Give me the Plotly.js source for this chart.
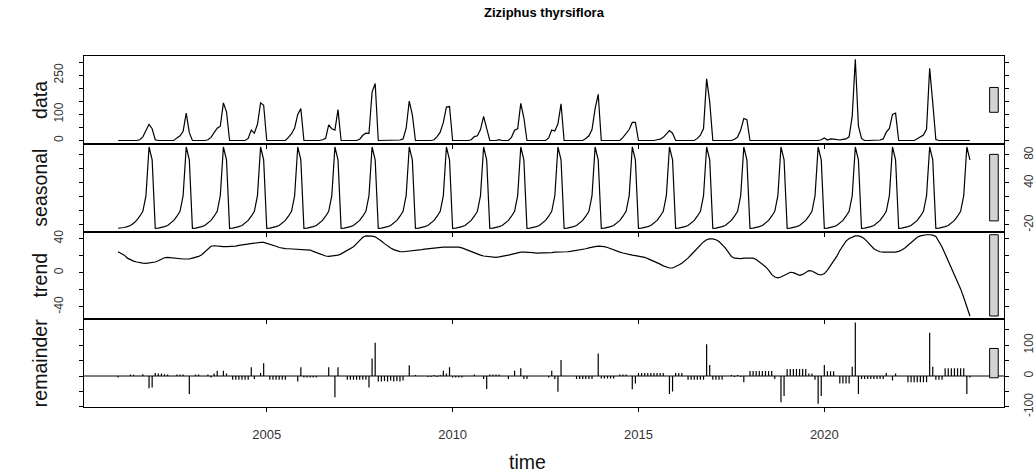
<!DOCTYPE html>
<html><head><meta charset="utf-8">
<script src="https://cdn.plot.ly/plotly-3.0.1.min.js"></script>
<style>html,body{margin:0;padding:0;background:#fff}</style>
</head><body><div id="chart" style="width:1036px;height:475px"></div>
<script>
const chartTitle = 'Ziziphus thyrsiflora';
const panelLabels = ['data', 'seasonal', 'trend', 'remainder'];
const startYear = 2001;
const xTickVals = [2005, 2010, 2015, 2020];

// one row per year, Jan..Dec
const dataValues = [
  [0,0,0,0,0,0,0,3,14,38,62,45],
  [3,0,0,0,0,0,0,10,18,35,105,30],
  [0,0,0,0,0,3,12,30,47,55,144,110],
  [0,0,0,0,0,0,8,40,28,62,144,135],
  [0,0,0,0,0,0,0,12,26,48,100,122],
  [0,0,0,0,0,0,3,8,60,45,40,118],
  [0,0,0,0,0,0,5,20,28,27,185,218],
  [0,0,0,0,0,0,0,2,6,47,151,98],
  [0,0,0,0,0,0,3,15,32,69,128,130],
  [0,0,0,0,0,0,3,15,18,42,92,50],
  [0,0,0,3,0,0,0,12,39,45,142,87],
  [0,0,0,0,0,0,0,10,40,36,64,140],
  [0,0,0,0,0,0,0,8,18,42,122,177],
  [0,0,0,0,0,0,0,12,25,42,69,69],
  [0,0,0,0,0,0,3,5,12,26,38,28],
  [0,0,0,0,0,0,0,8,20,46,236,148],
  [0,0,0,0,0,0,0,5,13,40,84,80],
  [0,0,0,0,0,0,0,0,0,0,0,0],
  [0,0,0,0,0,0,0,0,0,0,0,3],
  [10,2,6,5,3,2,4,6,14,93,311,56],
  [8,0,0,0,0,0,2,6,32,46,100,105],
  [0,0,0,0,0,0,7,14,21,44,276,145],
  [4,0,0,0,0,0,0,0,0,0,0,0]
];

const seasonalValues = [
  [-24.7,-24.4,-23.6,-22.3,-20.8,-17.5,-13.5,-7.5,-0.5,22,91.4,73],
  [-24.7,-24.4,-23.6,-22.3,-20.8,-17.5,-13.5,-7.5,-0.5,22,91.4,73],
  [-24.7,-24.4,-23.6,-22.3,-20.8,-17.5,-13.5,-7.5,-0.5,22,91.4,73],
  [-24.7,-24.4,-23.6,-22.3,-20.8,-17.5,-13.5,-7.5,-0.5,22,91.4,73],
  [-24.7,-24.4,-23.6,-22.3,-20.8,-17.5,-13.5,-7.5,-0.5,22,91.4,73],
  [-24.7,-24.4,-23.6,-22.3,-20.8,-17.5,-13.5,-7.5,-0.5,22,91.4,73],
  [-24.7,-24.4,-23.6,-22.3,-20.8,-17.5,-13.5,-7.5,-0.5,22,91.4,73],
  [-24.7,-24.4,-23.6,-22.3,-20.8,-17.5,-13.5,-7.5,-0.5,22,91.4,73],
  [-24.7,-24.4,-23.6,-22.3,-20.8,-17.5,-13.5,-7.5,-0.5,22,91.4,73],
  [-24.7,-24.4,-23.6,-22.3,-20.8,-17.5,-13.5,-7.5,-0.5,22,91.4,73],
  [-24.7,-24.4,-23.6,-22.3,-20.8,-17.5,-13.5,-7.5,-0.5,22,91.4,73],
  [-24.7,-24.4,-23.6,-22.3,-20.8,-17.5,-13.5,-7.5,-0.5,22,91.4,73],
  [-24.7,-24.4,-23.6,-22.3,-20.8,-17.5,-13.5,-7.5,-0.5,22,91.4,73],
  [-24.7,-24.4,-23.6,-22.3,-20.8,-17.5,-13.5,-7.5,-0.5,22,91.4,73],
  [-24.7,-24.4,-23.6,-22.3,-20.8,-17.5,-13.5,-7.5,-0.5,22,91.4,73],
  [-24.7,-24.4,-23.6,-22.3,-20.8,-17.5,-13.5,-7.5,-0.5,22,91.4,73],
  [-24.7,-24.4,-23.6,-22.3,-20.8,-17.5,-13.5,-7.5,-0.5,22,91.4,73],
  [-24.7,-24.4,-23.6,-22.3,-20.8,-17.5,-13.5,-7.5,-0.5,22,91.4,73],
  [-24.7,-24.4,-23.6,-22.3,-20.8,-17.5,-13.5,-7.5,-0.5,22,91.4,73],
  [-24.7,-24.4,-23.6,-22.3,-20.8,-17.5,-13.5,-7.5,-0.5,22,91.4,73],
  [-24.7,-24.4,-23.6,-22.3,-20.8,-17.5,-13.5,-7.5,-0.5,22,91.4,73],
  [-24.7,-24.4,-23.6,-22.3,-20.8,-17.5,-13.5,-7.5,-0.5,22,91.4,73],
  [-24.7,-24.4,-23.6,-22.3,-20.8,-17.5,-13.5,-7.5,-0.5,22,91.4,73]
];

const trendValues = [
  [24.5,22.5,20.5,17,15,13.5,12.5,11.7,11.2,11,11.2,11.7],
  [12.5,14,16,17.5,18,17.5,17,16.5,16,16,16,16],
  [17,18,19,21,24,28,31,31.5,31,30.5,30.5,30.5],
  [30.4,30.5,31,32,32.5,33,33.5,34,35,35.5,35.5,35.5],
  [34.5,33.5,32,31,29.5,28.5,28.2,28,27.8,27.7,27.7,27.5],
  [27.7,27.5,26.5,25,23.5,22,20.5,19.5,19.2,19.5,20,20.5],
  [22,24,26.5,28,30.4,34,38,41.5,43,43,42.8,42],
  [40,37,34,31,29,27,25.5,24.6,24.5,24.8,25,25.5],
  [26,26.5,27,27.5,28,28.5,29,29.5,30,30,30,30],
  [30.5,30.5,30,29,27.5,26,24.5,23,21.5,20.5,19.5,19],
  [18.5,18,18,18.5,19,19.5,20.5,21.5,22.5,23.5,24,24],
  [24,24,23.5,23,23,23,23,23,23.5,24,24,24],
  [24,24.5,25,25.5,26,26.5,27,28,29,30,30.5,31],
  [31,30.5,29.5,28,26.5,25,24,23,22,21,20.5,20],
  [19.5,19,18,16.5,15,13.5,12,10,8,6.5,5.5,5.5],
  [7,9,11,13.5,17,21,25,29,33,36,38.5,39.5],
  [39.5,38.5,36.5,33,29,24,19,17,16.5,16.5,17,17],
  [17.5,17,15.5,13,10.5,7,3,-2,-5,-6,-5,-3],
  [-1,0.5,0,-2,-3,-2,0,2.5,2,0,-2,-2.7],
  [-1,3,8,13,19,26,32,37,40,42,43,43],
  [42,39.5,35.5,31,28,26,24.5,24,24,24,24,24],
  [25,26.5,29,32,35.5,39,41.5,43,44,44.4,44.4,44],
  [42.5,37,30,22,14,6,-2,-10,-19,-29,-40,-50.7]
];

const remainderValues = [
  [-5,0,0,0,5,4,0,0,6,0,-40,-37],
  [10,8,8,6,5,0,0,5,5,5,0,-58],
  [0,5,5,0,0,5,-5,8,17,0,17,8],
  [0,-12,-12,-12,-12,-12,-12,28,-10,0,10,41],
  [0,-12,-12,-12,-12,-12,-12,0,0,0,-18,28],
  [-5,-5,-5,-5,-5,0,0,0,28,0,-69,28],
  [0,0,-12,-12,-12,-12,-12,-12,-12,-37,57,108],
  [-18,-18,-16,-18,-15,-18,-16,-18,-15,0,35,0],
  [3,0,0,0,-3,-3,3,-3,3,17,8,28],
  [-5,-5,-5,-5,0,0,0,5,0,0,-10,-42],
  [5,5,5,5,0,0,-10,0,17,0,25,-10],
  [-10,0,0,0,0,0,0,-5,17,-10,-51,52],
  [0,0,0,0,-10,-10,-10,-10,-10,-10,0,73],
  [-8,-8,-8,-8,-8,0,5,5,5,0,-43,-24],
  [10,10,10,10,10,10,10,10,10,0,-58,-50],
  [10,10,10,0,-12,-12,-12,-12,-12,-12,103,36],
  [-12,-12,-12,-12,0,0,3,-3,3,-3,-20,0],
  [16,16,16,16,16,16,16,16,-10,0,-85,-65],
  [23,23,23,23,23,23,23,8,8,-12,-90,-65],
  [36,15,15,15,0,-24,-24,-24,-24,30,173.5,-58],
  [-10,-10,-10,-10,-10,-10,-10,-10,10,0,-15,8],
  [0,0,0,-20,-20,-20,-20,-20,-20,-20,140,30],
  [-12,-12,-12,25,25,25,25,25,25,25,-58,-5]
];

function flat(rows) { return [].concat(...rows); }
const data = flat(dataValues);
const seasonal = flat(seasonalValues);
const trend = flat(trendValues);
const remainder = flat(remainderValues);
const time = data.map((_, i) => startYear + i / 12);

const series = [data, seasonal, trend, remainder];
const yTicks = [
  {vals: [0,50,100,150,200,250,300], text: ['0','','100','','','250','']},
  {vals: [-20,0,20,40,60,80], text: ['-20','','','40','','80']},
  {vals: [-40,-20,0,20,40], text: ['-40','','0','','40']},
  {vals: [-100,-50,0,50,100,150], text: ['-100','','0','','100','']}
];
const span = time[time.length - 1] - time[0];
const xRange = [time[0] - 0.04 * span, time[time.length - 1] + 0.04 * span];

const FONT = 'Liberation Sans, Arial, sans-serif';
const traces = [];
const layout = {
  width: 1036, height: 475,
  margin: {l: 84, r: 32, t: 56, b: 68},
  paper_bgcolor: '#fff', plot_bgcolor: '#fff',
  showlegend: false,
  font: {family: FONT, color: '#000'},
  shapes: [], annotations: []
};

const n = 4;
const h = 1 / n;
const ranges = series.map(s => Math.max(...s) - Math.min(...s));
const mx = Math.min(...ranges);
const dx = (xRange[1] - xRange[0]) / 64;

for (let i = 0; i < n; i++) {
  const xa = i === 0 ? 'xaxis' : 'xaxis' + (i + 1);
  const ya = i === 0 ? 'yaxis' : 'yaxis' + (i + 1);
  const xr = i === 0 ? 'x' : 'x' + (i + 1);
  const yr = i === 0 ? 'y' : 'y' + (i + 1);
  const dom = [1 - (i + 1) * h, 1 - i * h];
  const s = series[i];
  const lo = Math.min(...s), hi = Math.max(...s);
  const pad = 0.04 * (hi - lo);
  layout[xa] = {
    domain: [0, 1], anchor: yr, range: xRange, showgrid: false, zeroline: false,
    showline: true, mirror: true, linecolor: '#000', linewidth: 1,
    ticks: 'outside', ticklen: 4, tickwidth: 1, tickcolor: '#000',
    tickvals: xTickVals, showticklabels: i === n - 1, ticklabelstandoff: 11,
    tickfont: {size: 13, color: '#333', family: FONT}
  };
  const right = i % 2 === 1;
  layout[ya] = {
    domain: dom, anchor: xr, range: [lo - pad, hi + pad], showgrid: false, zeroline: false,
    showline: true, mirror: 'ticks', linecolor: '#000', linewidth: 1,
    ticks: 'outside', ticklen: 4, tickwidth: 1, tickcolor: '#000',
    side: right ? 'right' : 'left', ticklabelstandoff: right ? 10 : 11,
    tickmode: 'array', tickvals: yTicks[i].vals, ticktext: yTicks[i].text,
    tickangle: -90, tickfont: {size: 12, color: '#333', family: FONT}
  };
  if (i < n - 1) {
    traces.push({type: 'scatter', mode: 'lines', x: time, y: s, xaxis: xr, yaxis: yr,
      line: {color: '#000', width: 1.2}, hoverinfo: 'skip'});
  } else {
    const hx = [], hy = [];
    s.forEach((v, k) => { hx.push(time[k], time[k], null); hy.push(0, v, null); });
    traces.push({type: 'scatter', mode: 'lines', x: hx, y: hy, xaxis: xr, yaxis: yr,
      line: {color: '#000', width: 1.2}, hoverinfo: 'skip', connectgaps: false});
    layout.shapes.push({type: 'line', xref: xr + ' domain', yref: yr, x0: 0, x1: 1, y0: 0, y1: 0,
      line: {color: '#000', width: 1}});
  }
  const c = (hi + lo) / 2;
  layout.shapes.push({type: 'rect', xref: xr, yref: yr,
    x0: xRange[1] - dx, x1: xRange[1] - 0.4 * dx, y0: c - mx / 2, y1: c + mx / 2,
    fillcolor: '#d3d3d3', line: {color: '#000', width: 1}, layer: 'above'});
  layout.annotations.push({text: panelLabels[i], xref: 'paper', yref: 'paper',
    x: -44 / 920, y: (dom[0] + dom[1]) / 2, textangle: -90, showarrow: false,
    xanchor: 'center', yanchor: 'middle', font: {size: 19.5, family: FONT, color: '#111'}});
}
layout.annotations.push({text: '<b>' + chartTitle + '</b>', xref: 'paper', yref: 'paper',
  x: 0.5, y: 1 + 43 / 351, showarrow: false, xanchor: 'center', yanchor: 'middle',
  font: {size: 13, family: FONT, color: '#000'}});
layout.annotations.push({text: 'time', xref: 'paper', yref: 'paper',
  x: (527 - 84) / 920, y: -(462 - 407) / 351, showarrow: false, xanchor: 'center', yanchor: 'middle',
  font: {size: 19.5, family: FONT, color: '#111'}});

Plotly.newPlot('chart', traces, layout, {staticPlot: true, displayModeBar: false});
</script>
</body></html>
